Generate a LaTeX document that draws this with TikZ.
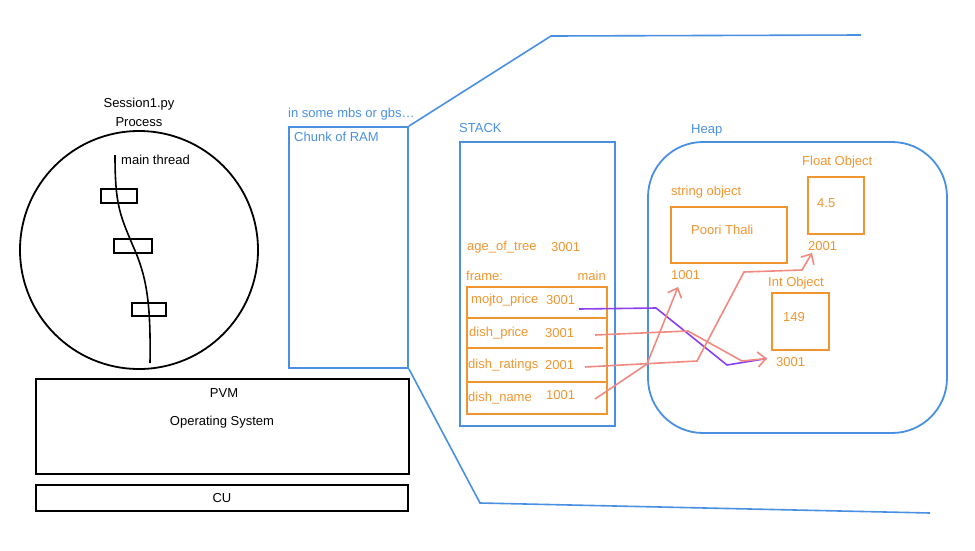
\documentclass[tikz,border=0pt]{standalone}
\usepackage{fontspec}
\setmainfont{Liberation Sans}
\usepackage{tikz}
\usetikzlibrary{arrows.meta,positioning}
\definecolor{ramblue}{HTML}{4A90E2}
\definecolor{objorange}{HTML}{F0952F}
\definecolor{refpink}{HTML}{F08A80}
\definecolor{refpurple}{HTML}{8A3FF0}
\tikzset{
  txt/.style={inner sep=0pt, anchor=west, font=\fontsize{13}{15}\selectfont},
  btxt/.style={txt, text=ramblue},
  otxt/.style={txt, text=objorange},
  blk/.style={rectangle, draw=black, line width=1.8pt, inner sep=0pt,
    minimum width=#1},
  blk/.default=36pt,
  bluebox/.style={rectangle, draw=ramblue, line width=1.8pt, inner sep=0pt},
  objbox/.style={rectangle, draw=objorange, line width=1.8pt, inner sep=0pt,
    minimum width=#1, minimum height=57pt},
  objbox/.default=57pt,
  zoomline/.style={draw=ramblue, line width=1.6pt},
  ref/.style={draw=refpink, line width=1.6pt,
    -{Straight Barb[length=8pt,width=15pt,line width=1.6pt]}},
  refp/.style={draw=refpurple, line width=1.6pt},
}

\begin{document}
\begin{tikzpicture}[x=1pt, y=-1pt]
  \useasboundingbox (0,0) rectangle (975,550);

  % process with its thread
  \node[txt, anchor=center] (sess) at (139,104) {Session1.py};
  \node[txt, anchor=center] (proc) at (139,122) {Process};
  \node[circle, draw=black, line width=1.8pt, minimum size=238pt] (pcircle) at (139,250) {};
  \node[txt] (thr) at (121,160) {main thread};
  \node[blk=36pt, minimum height=14pt] (f1) at (119,196) {};
  \node[blk=38pt, minimum height=14pt] (f2) at (133,246) {};
  \node[blk=34pt, minimum height=13pt] (f3) at (149,309.5) {};
  \coordinate (ttop) at (115,155);
  \coordinate (tbot) at (150,363);
  \draw[line width=1.6pt] (ttop) .. controls (115,205) and (120,215) .. (f2.center)
    .. controls (146,275) and (151,300) .. (tbot);

  % layers below
  \node[blk=373pt, minimum height=95pt] (pvm) at (222.5,426.5) {};
  \node[txt, anchor=center] (pvmlbl) at (224,393) {PVM};
  \node[txt, anchor=center] (os) at (222,422) {Operating System};
  \node[blk=372pt, minimum height=26pt] (cu) at (222,498) {};
  \node[txt, anchor=center] (culbl) at (cu) {CU};

  % chunk of RAM
  \node[bluebox, minimum width=119pt, minimum height=241pt] (ram) at (348.5,247.5) {};
  \node[btxt] (ramsize) at (288,114) {in some mbs or gbs…};
  \node[btxt] (ramlbl) at (294,137) {Chunk of RAM};
  \coordinate (zt1) at (551,36);
  \coordinate (zt2) at (861,35);
  \coordinate (zb1) at (480,503);
  \coordinate (zb2) at (930,513);
  \draw[zoomline] (ram.north east) -- (zt1) -- (zt2);
  \draw[zoomline] (ram.south east) -- (zb1) -- (zb2);

  % stack
  \node[btxt] (stacklbl) at (459,128) {STACK};
  \node[bluebox, minimum width=155pt, minimum height=284pt] (stack) at (537.5,284) {};
  \node[otxt] (age) at (467,247) {age\_of\_tree};
  \node[otxt] (ageval) at (551,247) {3001};
  \node[otxt] (framelbl) at (466,276) {frame:};
  \node[otxt, anchor=east] (framename) at (606,276) {main};
  \node[objbox=140pt, minimum height=127pt] (frame) at (537,350.5) {};
  \draw[draw=objorange, line width=1.8pt] (frame.west |- 0,318) -- (frame.east |- 0,318);
  \draw[draw=objorange, line width=1.8pt] (466,348) -- (603,348);
  \draw[draw=objorange, line width=1.8pt] (frame.west |- 0,382) -- (frame.east |- 0,382);
  \node[otxt] (mojto) at (471,300) {mojto\_price};
  \node[otxt] (mojtoval) at (546,300) {3001};
  \node[otxt] (dprice) at (469,333) {dish\_price};
  \node[otxt] (dpriceval) at (545,333) {3001};
  \node[otxt] (drat) at (468,365) {dish\_ratings};
  \node[otxt] (dratval) at (545,365) {2001};
  \node[otxt] (dname) at (468,398) {dish\_name};
  \node[otxt] (dnameval) at (546,395) {1001};

  % heap
  \node[btxt] (heaplbl) at (691,130) {Heap};
  \draw[draw=ramblue, line width=1.8pt, rounded corners=55pt] (648,142) rectangle (947,433);
  \node[otxt] (strlbl) at (671,192) {string object};
  \node[objbox=116pt, minimum height=56pt] (strobj) at (729,235) {};
  \node[otxt] (strval) at (691,230) {Poori Thali};
  \node[otxt] (stradr) at (671,275) {1001};
  \node[otxt] (fltlbl) at (802,162) {Float Object};
  \node[objbox=56pt] (fltobj) at (836,205.5) {};
  \node[otxt] (fltval) at (817,203) {4.5};
  \node[otxt] (fltadr) at (808,246) {2001};
  \node[otxt] (intlbl) at (768,283) {Int Object};
  \node[objbox] (intobj) at (800.5,321.5) {};
  \node[otxt] (intval) at (783,317) {149};
  \node[otxt] (intadr) at (776,362) {3001};

  % references
  \coordinate (rmojto) at (579,309);
  \coordinate (rprice) at (595,335);
  \coordinate (rrat) at (585,367);
  \coordinate (rname) at (595,399);
  \coordinate (tint) at (767,358.5);
  \coordinate (tflt) at (812,253);
  \coordinate (tstr) at (678,287);
  \draw[refp] (rmojto) -- (656,308) -- (727,365) -- (tint);
  \draw[ref] (rprice) -- (688,331) -- (742,361) -- (tint);
  \draw[ref] (rrat) -- (697,361) -- (744,272) -- (802,270) -- (tflt);
  \draw[ref] (rname) -- (647,364) -- (tstr);
\end{tikzpicture}
\end{document}
